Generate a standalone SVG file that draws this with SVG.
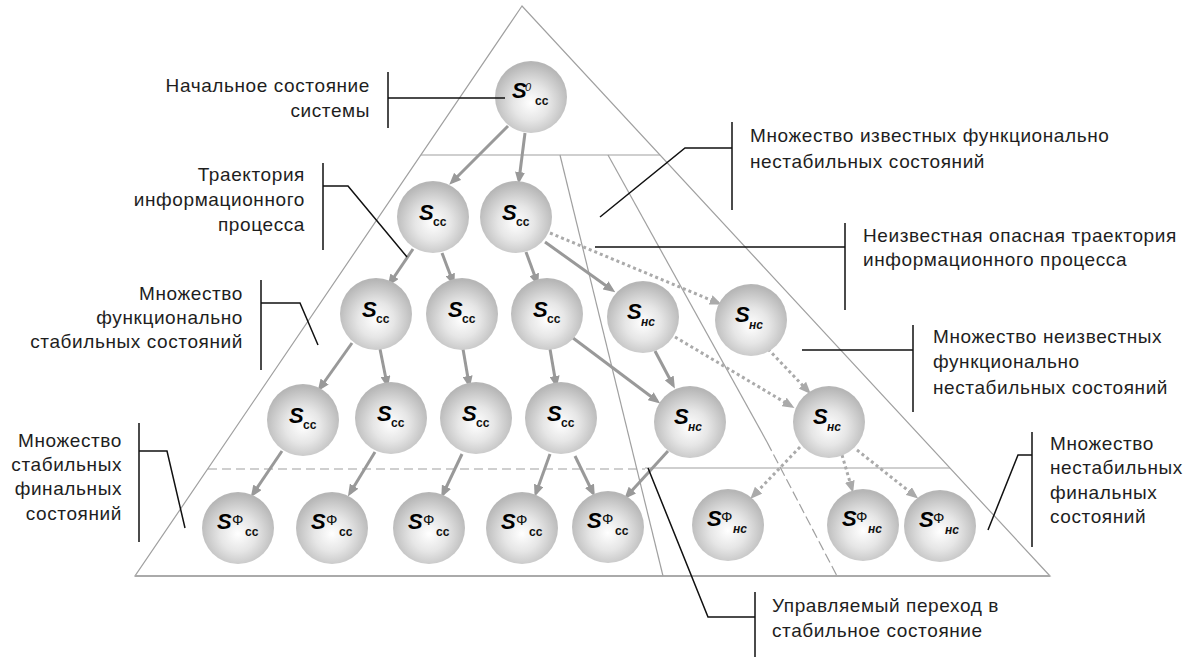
<svg xmlns="http://www.w3.org/2000/svg" width="1196" height="658" viewBox="0 0 1196 658">
<defs>
<radialGradient id="ball" cx="0.5" cy="0.58" r="0.55">
<stop offset="0" stop-color="#ffffff"/>
<stop offset="0.45" stop-color="#e6e6e6"/>
<stop offset="1" stop-color="#b6b6b6"/>
</radialGradient>
<marker id="ah" markerUnits="userSpaceOnUse" markerWidth="12" markerHeight="10" viewBox="0 0 12 10" refX="8" refY="5" orient="auto">
<path d="M0,0 L12,5 L0,10 z" fill="#999"/>
</marker>
<marker id="ahd" markerUnits="userSpaceOnUse" markerWidth="12" markerHeight="10" viewBox="0 0 12 10" refX="8" refY="5" orient="auto">
<path d="M0,0 L12,5 L0,10 z" fill="#aaa"/>
</marker>
</defs>
<style>
.edge{stroke:#a0a0a0;stroke-width:1.2;fill:none}
.lbl{font-family:"Liberation Sans",Arial,sans-serif;font-size:19px;fill:#1e1e1e;letter-spacing:0.6px}
.r{text-anchor:end}
.lead{stroke:#111;stroke-width:1.5;fill:none}
.S{font-family:"Liberation Sans",Arial,sans-serif;font-size:22px;font-weight:bold;font-style:italic;fill:#000}
.sb{font-family:"Liberation Sans",Arial,sans-serif;font-size:12px;font-weight:bold;fill:#111}
.sbi{font-family:"Liberation Sans",Arial,sans-serif;font-size:12px;font-weight:bold;font-style:italic;fill:#111}
.sup{font-family:"Liberation Sans",Arial,sans-serif;font-size:15px;fill:#111}
.sup0{font-family:"Liberation Sans",Arial,sans-serif;font-size:11px;font-style:italic;fill:#111}
.sol{stroke:#999;stroke-width:3;fill:none;marker-end:url(#ah)}
.dot{stroke:#aaa;stroke-width:3;stroke-dasharray:3 3;fill:none;marker-end:url(#ahd)}
.ball{fill:url(#ball)}
</style>

<g id="pyramid">
<polygon class="edge" points="522,6 135,576 1050,576"/>
<line x1="135" y1="576" x2="1050" y2="576" stroke="#aaa" stroke-width="2"/>
<line class="edge" x1="421" y1="155" x2="660" y2="155"/>
<line class="edge" x1="645" y1="468" x2="950" y2="468"/>
<line class="edge" x1="208" y1="469" x2="645" y2="469" stroke-dasharray="9 5" stroke="#999"/>
<line class="edge" x1="560" y1="155" x2="663" y2="576"/>
<line class="edge" x1="608" y1="155" x2="767" y2="442"/>
<line class="edge" x1="767" y1="442" x2="837" y2="576" stroke-dasharray="10 4"/>
</g>

<g id="connectors">
<line class="sol" x1="508" y1="126" x2="452" y2="182"/>
<line class="sol" x1="525" y1="133" x2="519" y2="180"/>
<line class="sol" x1="413" y1="249" x2="390" y2="283"/>
<line class="sol" x1="442" y1="253" x2="453" y2="282"/>
<line class="sol" x1="526" y1="252" x2="537" y2="282"/>
<line class="sol" x1="545" y1="242" x2="612" y2="290"/>
<line class="sol" x1="352" y1="343" x2="320" y2="388"/>
<line class="sol" x1="380" y1="349" x2="387" y2="384"/>
<line class="sol" x1="463" y1="349" x2="469" y2="384"/>
<line class="sol" x1="550" y1="349" x2="556" y2="384"/>
<line class="sol" x1="573" y1="338" x2="657" y2="401"/>
<line class="sol" x1="655" y1="351" x2="673" y2="385"/>
<line class="sol" x1="282" y1="451" x2="253" y2="494"/>
<line class="sol" x1="375" y1="452" x2="350" y2="493"/>
<line class="sol" x1="462" y1="454" x2="443" y2="494"/>
<line class="sol" x1="550" y1="454" x2="536" y2="493"/>
<line class="sol" x1="575" y1="456" x2="593" y2="493"/>
<line class="sol" x1="668" y1="451" x2="627" y2="496"/>
<line class="dot" x1="550" y1="233" x2="718" y2="303"/>
<line class="dot" x1="675" y1="337" x2="791" y2="406"/>
<line class="dot" x1="768" y1="349" x2="808" y2="391"/>
<line class="dot" x1="800" y1="447" x2="753" y2="496"/>
<line class="dot" x1="842" y1="455" x2="852" y2="489"/>
<line class="dot" x1="857" y1="450" x2="915" y2="496"/>
</g>

<g id="n0"><circle class="ball" cx="531" cy="97" r="36"/><text class="S" x="512" y="98">S</text><text class="sup0" x="525" y="91">0</text><text class="sb" x="535" y="105">cc</text></g>

<g id="n1a"><circle class="ball" cx="433" cy="217" r="36"/><text class="S" x="419" y="220">S</text><text class="sb" x="433" y="226">cc</text></g>
<g id="n1b"><circle class="ball" cx="516" cy="217" r="36"/><text class="S" x="502" y="220">S</text><text class="sb" x="516" y="226">cc</text></g>

<g id="n2a"><circle class="ball" cx="376" cy="314" r="36"/><text class="S" x="362" y="317">S</text><text class="sb" x="376" y="323">cc</text></g>
<g id="n2b"><circle class="ball" cx="462" cy="314" r="36"/><text class="S" x="448" y="317">S</text><text class="sb" x="462" y="323">cc</text></g>
<g id="n2c"><circle class="ball" cx="547" cy="314" r="36"/><text class="S" x="533" y="317">S</text><text class="sb" x="547" y="323">cc</text></g>
<g id="n2d"><circle class="ball" cx="643" cy="317" r="36"/><text class="S" x="627" y="319">S</text><text class="sbi" x="641" y="326">нс</text></g>
<g id="n2e"><circle class="ball" cx="751" cy="320" r="36"/><text class="S" x="735" y="322">S</text><text class="sbi" x="749" y="329">нс</text></g>

<g id="n3a"><circle class="ball" cx="303" cy="420" r="36"/><text class="S" x="289" y="423">S</text><text class="sb" x="303" y="429">cc</text></g>
<g id="n3b"><circle class="ball" cx="391" cy="418" r="36"/><text class="S" x="377" y="421">S</text><text class="sb" x="391" y="427">cc</text></g>
<g id="n3c"><circle class="ball" cx="476" cy="418" r="36"/><text class="S" x="462" y="421">S</text><text class="sb" x="476" y="427">cc</text></g>
<g id="n3d"><circle class="ball" cx="561" cy="418" r="36"/><text class="S" x="547" y="421">S</text><text class="sb" x="561" y="427">cc</text></g>
<g id="n3e"><circle class="ball" cx="690" cy="422" r="36"/><text class="S" x="674" y="424">S</text><text class="sbi" x="688" y="431">нс</text></g>
<g id="n3f"><circle class="ball" cx="829" cy="422" r="36"/><text class="S" x="813" y="424">S</text><text class="sbi" x="827" y="431">нс</text></g>

<g id="n4a"><circle class="ball" cx="238" cy="528" r="36"/><text class="S" x="217" y="529">S</text><text class="sup" x="232" y="525">Ф</text><text class="sb" x="245" y="536" font-weight="normal">cc</text></g>
<g id="n4b"><circle class="ball" cx="332" cy="528" r="36"/><text class="S" x="311" y="529">S</text><text class="sup" x="326" y="525">Ф</text><text class="sb" x="339" y="536" font-weight="normal">cc</text></g>
<g id="n4c"><circle class="ball" cx="429" cy="528" r="36"/><text class="S" x="408" y="529">S</text><text class="sup" x="423" y="525">Ф</text><text class="sb" x="436" y="536" font-weight="normal">cc</text></g>
<g id="n4d"><circle class="ball" cx="522" cy="528" r="36"/><text class="S" x="501" y="529">S</text><text class="sup" x="516" y="525">Ф</text><text class="sb" x="529" y="536" font-weight="normal">cc</text></g>
<g id="n4e"><circle class="ball" cx="608" cy="527" r="36"/><text class="S" x="587" y="528">S</text><text class="sup" x="602" y="524">Ф</text><text class="sb" x="615" y="535" font-weight="normal">cc</text></g>
<g id="n4f"><circle class="ball" cx="728" cy="525" r="36"/><text class="S" x="707" y="526">S</text><text class="sup" x="721" y="522">Ф</text><text class="sbi" x="733" y="533" font-weight="normal">нс</text></g>
<g id="n4g"><circle class="ball" cx="863" cy="525" r="36"/><text class="S" x="842" y="526">S</text><text class="sup" x="856" y="522">Ф</text><text class="sbi" x="868" y="533" font-weight="normal">нс</text></g>
<g id="n4h"><circle class="ball" cx="940" cy="526" r="36"/><text class="S" x="919" y="527">S</text><text class="sup" x="933" y="523">Ф</text><text class="sbi" x="945" y="534" font-weight="normal">нс</text></g>

<g id="lbl-initial">
<text class="lbl r" x="370" y="92">Начальное состояние</text>
<text class="lbl r" x="370" y="117">системы</text>
<path class="lead" d="M388,72 V128 M388,98 H505"/>
</g>
<g id="lbl-trajectory">
<text class="lbl r" x="305" y="181">Траектория</text>
<text class="lbl r" x="305" y="206">информационного</text>
<text class="lbl r" x="305" y="231">процесса</text>
<path class="lead" d="M323,163 V250 M323,186 H348 L407,257"/>
</g>
<g id="lbl-funcstable">
<text class="lbl r" x="243" y="300">Множество</text>
<text class="lbl r" x="243" y="324">функционально</text>
<text class="lbl r" x="243" y="348">стабильных состояний</text>
<path class="lead" d="M261,280 V370 M261,303 H300 L318,345"/>
</g>
<g id="lbl-stablefinal">
<text class="lbl r" x="122" y="447">Множество</text>
<text class="lbl r" x="122" y="471">стабильных</text>
<text class="lbl r" x="122" y="495">финальных</text>
<text class="lbl r" x="122" y="520">состояний</text>
<path class="lead" d="M139,423 V542 M139,451 H167 L185,528"/>
</g>
<g id="lbl-knownunstable">
<text class="lbl" x="750" y="142">Множество известных функционально</text>
<text class="lbl" x="750" y="168">нестабильных состояний</text>
<path class="lead" d="M732,122 V210 M732,148 H685 L600,217"/>
</g>
<g id="lbl-dangerous">
<text class="lbl" x="863" y="242">Неизвестная опасная траектория</text>
<text class="lbl" x="863" y="266">информационного процесса</text>
<path class="lead" d="M845,223 V310 M845,247 H595"/>
</g>
<g id="lbl-unknownunstable">
<text class="lbl" x="933" y="343">Множество неизвестных</text>
<text class="lbl" x="933" y="368">функционально</text>
<text class="lbl" x="933" y="394">нестабильных состояний</text>
<path class="lead" d="M913,325 V412 M913,350 H802"/>
</g>
<g id="lbl-unstablefinal">
<text class="lbl" x="1050" y="450">Множество</text>
<text class="lbl" x="1050" y="474">нестабильных</text>
<text class="lbl" x="1050" y="499">финальных</text>
<text class="lbl" x="1050" y="523">состояний</text>
<path class="lead" d="M1032,432 V547 M1032,455 H1018 L988,530"/>
</g>
<g id="lbl-controlled">
<text class="lbl" x="772" y="612">Управляемый переход в</text>
<text class="lbl" x="772" y="637">стабильное состояние</text>
<path class="lead" d="M755,592 V657 M755,617 H708 L648,468"/>
</g>
</svg>
